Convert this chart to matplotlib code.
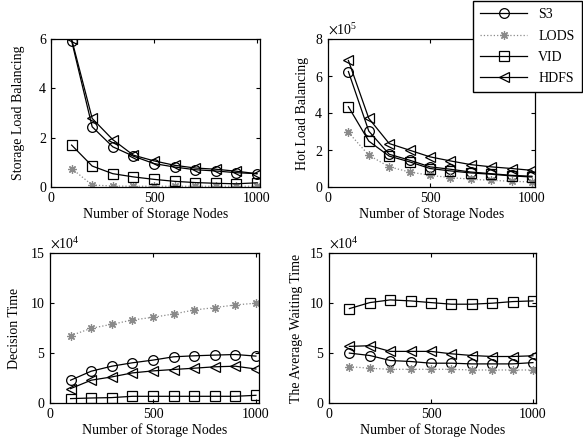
import numpy as np
import matplotlib
matplotlib.use("Agg")
import matplotlib.pyplot as plt
from matplotlib.ticker import ScalarFormatter

plt.rcParams.update({
    'font.family': 'Liberation Serif',
    'font.size': 10,
    'axes.linewidth': 0.9,
    'xtick.direction': 'in',
    'ytick.direction': 'in',
    'xtick.top': True,
    'ytick.right': True,
    'xtick.major.size': 3,
    'ytick.major.size': 3,
    'mathtext.fontset': 'stix',
})

nodes = [100, 200, 300, 400, 500, 600, 700, 800, 900, 1000]

# storage load balancing
storage_s3 = [5.93, 2.44, 1.63, 1.25, 0.95, 0.81, 0.70, 0.65, 0.58, 0.54]
storage_lods = [0.75, 0.08, 0.04, 0.03, 0.03, 0.03, 0.03, 0.03, 0.03, 0.03]
storage_vid = [1.70, 0.85, 0.54, 0.41, 0.31, 0.23, 0.18, 0.15, 0.13, 0.17]
storage_hdfs = [6.00, 2.78, 1.92, 1.29, 1.06, 0.88, 0.77, 0.72, 0.64, 0.54]

# hot load balancing (x 1e5)
hot_s3 = [6.24, 3.02, 1.77, 1.45, 1.09, 0.96, 0.81, 0.72, 0.63, 0.58]
hot_lods = [2.95, 1.72, 1.09, 0.81, 0.63, 0.51, 0.42, 0.36, 0.31, 0.27]
hot_vid = [4.34, 2.48, 1.67, 1.36, 1.00, 0.87, 0.76, 0.69, 0.60, 0.54]
hot_hdfs = [6.84, 3.71, 2.35, 1.99, 1.63, 1.41, 1.21, 1.09, 1.00, 0.90]

# decision time (x 1e4)
dec_s3 = [2.28, 3.18, 3.68, 4.02, 4.29, 4.62, 4.72, 4.79, 4.85, 4.69]
dec_lods = [6.73, 7.47, 7.87, 8.30, 8.57, 8.90, 9.30, 9.54, 9.81, 9.98]
dec_vid = [0.44, 0.50, 0.54, 0.67, 0.67, 0.67, 0.67, 0.67, 0.67, 0.77]
dec_hdfs = [1.44, 2.28, 2.61, 3.01, 3.21, 3.35, 3.48, 3.62, 3.68, 3.40]

# average waiting time (x 1e4)
wait_s3 = [4.99, 4.75, 4.25, 4.15, 3.98, 3.98, 3.91, 3.91, 3.91, 4.04]
wait_lods = [3.64, 3.47, 3.37, 3.37, 3.37, 3.37, 3.30, 3.30, 3.30, 3.30]
wait_vid = [9.44, 10.04, 10.31, 10.21, 10.04, 9.88, 9.88, 9.98, 10.14, 10.21]
wait_hdfs = [5.66, 5.73, 5.16, 5.16, 5.16, 4.92, 4.75, 4.65, 4.65, 4.72]

labels = ['S3', 'LODS', 'VID', 'HDFS']
styles = [
    dict(color='black', ls='-', marker='o', ms=7),
    dict(color='#8a8a8a', ls=':', marker=(8, 2, 0), ms=6),
    dict(color='black', ls='-', marker='s', ms=7),
    dict(color='black', ls='-', marker='<', ms=7),
]


class FixedOrderFormatter(ScalarFormatter):
    """Scalar formatter with a forced power of ten in the offset text"""
    def __init__(self, order):
        super().__init__(useMathText=True)
        self._order = order

    def _set_order_of_magnitude(self):
        self.orderOfMagnitude = self._order


W, H = 583, 438
def box(l, t, r, b):
    return [l / W, 1 - b / H, (r - l) / W, (b - t) / H]

panels = [
    (box(51, 39, 260, 187), [storage_s3, storage_lods, storage_vid, storage_hdfs], 0,
     'Storage Load Balancing', (0, 6), [0, 2, 4, 6], 10),
    (box(328, 39, 535, 187), [hot_s3, hot_lods, hot_vid, hot_hdfs], 5,
     'Hot Load Balancing', (0, 8e5), [0, 2e5, 4e5, 6e5, 8e5], 4),
    (box(50, 253, 259, 403), [dec_s3, dec_lods, dec_vid, dec_hdfs], 4,
     'Decision Time', (0, 15e4), [0, 5e4, 10e4, 15e4], 6),
    (box(329, 253, 536, 403), [wait_s3, wait_lods, wait_vid, wait_hdfs], 4,
     'The Average Waiting Time', (0, 15e4), [0, 5e4, 10e4, 15e4], 4),
]

fig = plt.figure(figsize=(W / 100, H / 100), dpi=100)
handles = []
for pos, series, order, ylabel, ylim, yticks, lpad in panels:
    ax = fig.add_axes(pos)
    hs = []
    for vals, st, lab in zip(series, styles, labels):
        h, = ax.plot(nodes, np.array(vals) * 10.0 ** order, lw=0.9, mfc='none',
                     mew=0.9, label=lab, **st)
        hs.append(h)
    handles = hs
    ax.set_xlim(0, 1015)
    ax.set_ylim(*ylim)
    ax.set_xticks([0, 500, 1000])
    ax.set_yticks(yticks)
    ax.set_xlabel('Number of Storage Nodes', labelpad=2)
    ax.set_ylabel(ylabel, labelpad=lpad)
    if order:
        ax.yaxis.set_major_formatter(FixedOrderFormatter(order))

fig.legend(handles, labels, loc='upper right', bbox_to_anchor=(1.0, 1.0),
           frameon=True, fancybox=False, edgecolor='black', framealpha=1,
           handlelength=3.4, borderpad=0.5, labelspacing=0.6, fontsize=10,
           borderaxespad=0.1)

fig.savefig('out.png', dpi=100)
